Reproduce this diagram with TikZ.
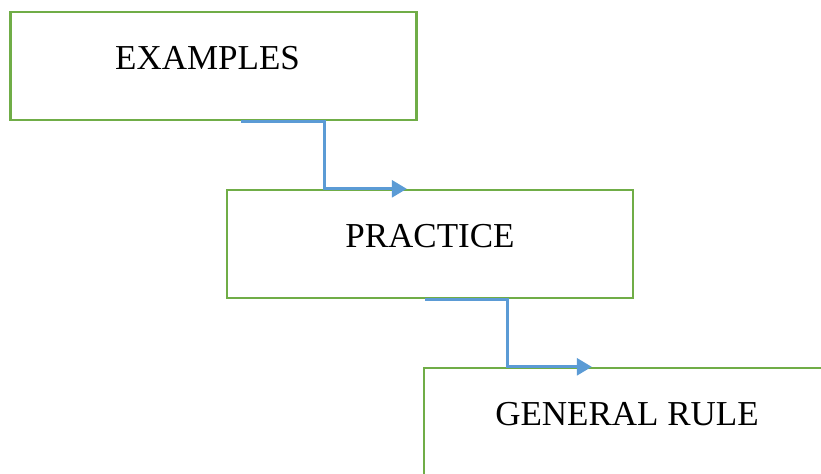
\documentclass[tikz,border=0pt]{standalone}
\usepackage{fontspec}
\setmainfont{Liberation Serif}
\usepackage{xcolor}
\usepackage{tikz}
\usetikzlibrary{arrows.meta}
\definecolor{boxgreen}{HTML}{70AD47}
\definecolor{linkblue}{HTML}{5B9BD5}

\begin{document}
\begin{tikzpicture}[x=0.5pt,y=-0.5pt,
  stage/.style={draw=boxgreen,line width=1.2pt,minimum width=203pt,minimum height=54pt,
    inner sep=0pt,text height=12pt,text depth=9pt,font=\fontsize{17.5}{21}\selectfont},
  link/.style={draw=linkblue,line width=1.5pt,-{Triangle[length=7.5pt,width=8.5pt]}}]
\clip (0,0) rectangle (821,473);
\node[stage] (ex) at (213.5,66) {EXAMPLES\kern6pt};
\node[stage] (pr) at (430,244) {PRACTICE};
\node[stage] (gr) at (627,422) {GENERAL RULE};
\draw[link] ([xshift=116pt]ex.south west) -- ([xshift=157.5pt]ex.south west) |- ([xshift=90.5pt]pr.north west);
\draw[link] ([xshift=99.5pt]pr.south west) -- ([xshift=141pt]pr.south west) |- ([xshift=84.5pt]gr.north west);
\end{tikzpicture}
\end{document}
